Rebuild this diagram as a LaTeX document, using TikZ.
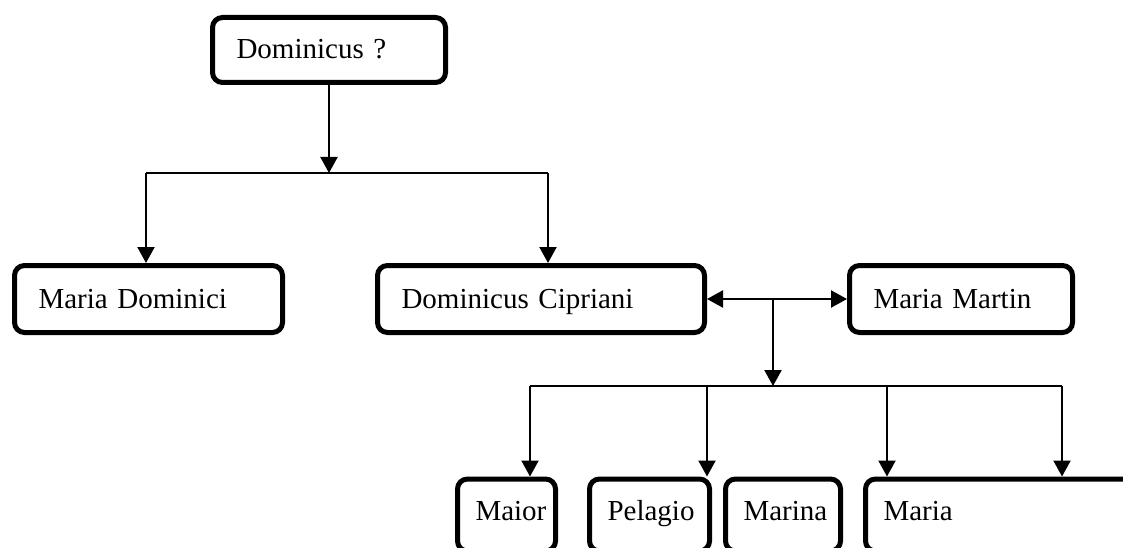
\documentclass[tikz,border=0pt]{standalone}
\usepackage{fontspec}
\setmainfont{Liberation Serif}
\usetikzlibrary{arrows.meta}

\begin{document}
\begin{tikzpicture}[x=1pt, y=-1pt,
    person/.style={rectangle, draw, rounded corners=10pt, line width=5pt, align=left,
        inner xsep=24pt, inner ysep=0pt, minimum height=67pt,
        text height=24pt, text depth=6pt,
        font=\fontsize{29pt}{34pt}\selectfont},
    child/.style={person, inner xsep=18pt, minimum height=72pt,
        text height=20pt, text depth=10pt},
    link/.style={line width=2.2pt},
    arr/.style={link, -{Triangle[width=17pt, length=16pt]}}]
    \clip (0,0) rectangle (1123,548);

    % Persons
    \node[person, text width=185pt, minimum height=65pt] (DOMINICUS) at (329,50) {Dominicus ?};
    \node[person, text width=220pt] (MARIADOM) at (148.5,299) {Maria Dominici};
    \node[person, text width=279pt] (CIPRIANI) at (541,299) {Dominicus Cipriani};
    \node[person, text width=175pt] (MARTIN) at (961,299) {Maria Martin};

    % Children
    \node[child, text width=62pt] (MAIOR) at (506.5,515) {Maior};
    \node[child, text width=84pt] (PELAGIO) at (649.5,515) {Pelagio};
    \node[child, text width=79pt] (MARINA) at (783,515) {Marina};
    \node[child, text width=236pt] (MARIA) at (1001.5,515) {Maria};

    % First generation
    \coordinate (SPLIT) at (329,173);
    \coordinate (BARL) at (146,173);
    \coordinate (BARR) at (548,173);
    \draw[arr] (DOMINICUS) -- (SPLIT);
    \draw[link] (BARL) -- (BARR);
    \draw[arr] (BARL) -- (BARL |- MARIADOM.north);
    \draw[arr] (BARR) -- (BARR |- CIPRIANI.north);

    % Marriage
    \draw[link, {Triangle[width=17pt, length=16pt]}-{Triangle[width=17pt, length=16pt]}] (CIPRIANI) -- (MARTIN);
    \coordinate (UNION) at (773,299);
    \coordinate (KIDS) at (773,386);
    \draw[arr] (UNION) -- (KIDS);

    % Second generation
    \coordinate (K1) at (530,386);
    \coordinate (K2) at (707,386);
    \coordinate (K3) at (887,386);
    \coordinate (K4) at (1062,386);
    \draw[link] (K1) -- (K4);
    \draw[arr] (K1) -- (K1 |- MAIOR.north);
    \draw[arr] (K2) -- (K2 |- PELAGIO.north);
    \draw[arr] (K3) -- (K3 |- MARINA.north);
    \draw[arr] (K4) -- (K4 |- MARIA.north);
\end{tikzpicture}
\end{document}
